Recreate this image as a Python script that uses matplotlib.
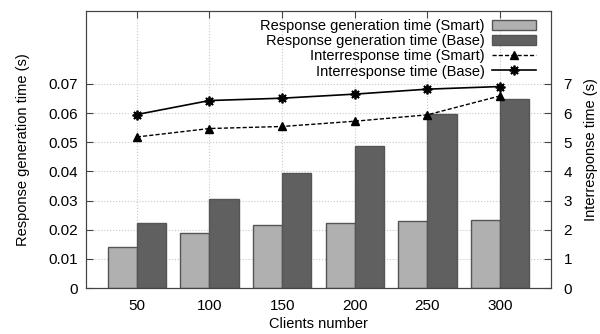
import numpy as np
import matplotlib
matplotlib.use("Agg")
import matplotlib.pyplot as plt

plt.rcParams['font.family'] = ['Liberation Sans', 'DejaVu Sans']

clients = ["50", "100", "150", "200", "250", "300"]
gen_smart = [0.0142, 0.0188, 0.0216, 0.0222, 0.0230, 0.0234]
gen_base = [0.0222, 0.0306, 0.0396, 0.0488, 0.0597, 0.0648]
inter_smart = [5.18, 5.47, 5.54, 5.72, 5.94, 6.59]
inter_base = [5.95, 6.43, 6.51, 6.65, 6.82, 6.91]

x = np.arange(len(clients))
w = 0.4
fs = 10.5

fig, ax = plt.subplots(figsize=(6, 3.34), dpi=100)
fig.subplots_adjust(left=0.1433, right=0.9183, top=0.967, bottom=0.1377)

ax.set_axisbelow(True)
ax.grid(True, linestyle=':', color='#c8c8c8', linewidth=0.8)
b1 = ax.bar(x - w / 2, gen_smart, w, color='#b0b0b0', edgecolor='#555555', linewidth=1,
            label='Response generation time (Smart)')
b2 = ax.bar(x + w / 2, gen_base, w, color='#606060', edgecolor='#555555', linewidth=1,
            label='Response generation time (Base)')
ax.set_xlim(-0.7, 5.7)
ax.set_ylim(0, 0.095)
ax.set_yticks([0, 0.01, 0.02, 0.03, 0.04, 0.05, 0.06, 0.07])
ax.set_yticklabels(["0", "0.01", "0.02", "0.03", "0.04", "0.05", "0.06", "0.07"])
ax.set_xticks(x)
ax.set_xticklabels(clients)
ax.tick_params(axis='both', direction='in', labelsize=11, top=True, length=5, color='#444444')
ax.tick_params(axis='y', pad=6)
ax.tick_params(axis='x', pad=8)
ax.set_xlabel("Clients number", fontsize=fs, labelpad=3)
ax.set_ylabel("Response generation time (s)", fontsize=fs, labelpad=13)
for s in ax.spines.values():
    s.set_color('#444444')

ax2 = ax.twinx()
ax2.set_ylim(0, 9.5)
ax2.set_yticks(range(8))
l1, = ax2.plot(x, inter_smart, color='black', linestyle='--', dashes=(3, 1.5), linewidth=1,
               marker='^', markersize=6, label='Interresponse time (Smart)')
l2, = ax2.plot(x, inter_base, color='black', linestyle='-', linewidth=1.2,
               marker=(8, 2, 0), markersize=7, markeredgewidth=1.3,
               label='Interresponse time (Base)')
ax2.tick_params(axis='y', direction='in', labelsize=11, length=5, color='#444444', pad=9)
ax2.set_ylabel("Interresponse time (s)", fontsize=fs, labelpad=9)
for s in ax2.spines.values():
    s.set_color('#444444')

leg = ax2.legend([b1, b2, l1, l2], [b1.get_label(), b2.get_label(), l1.get_label(), l2.get_label()],
                 loc='upper right', bbox_to_anchor=(0.985, 1.0), frameon=False, markerfirst=False,
                 fontsize=fs, handlelength=3.0, handletextpad=0.5, labelspacing=0.08,
                 borderaxespad=0.15)
for col in leg._legend_handle_box.get_children():
    col.align = 'right'

plt.savefig('out.png', dpi=100)
